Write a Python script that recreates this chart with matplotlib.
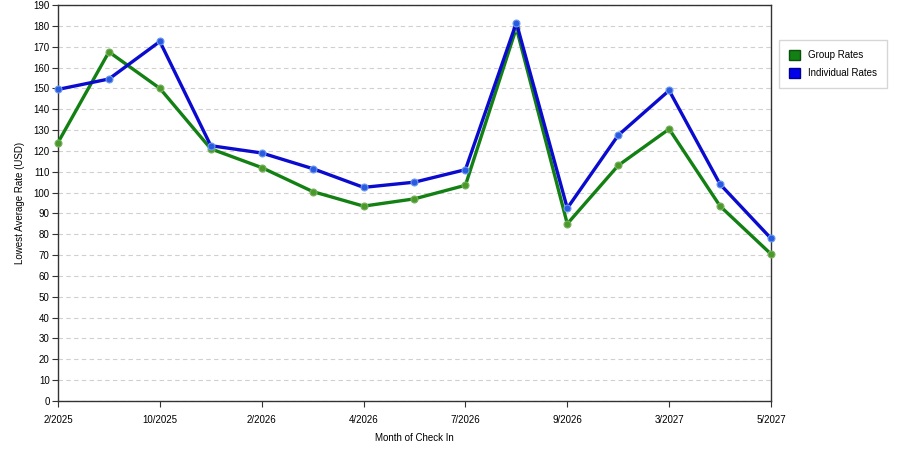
import matplotlib
matplotlib.use("Agg")
import matplotlib.pyplot as plt
from matplotlib.patches import Patch

# 체크인 월 (라벨은 두 칸마다 하나씩)
months = ["2/2025", "", "10/2025", "", "2/2026", "", "4/2026", "", "7/2026",
          "", "9/2026", "", "3/2027", "", "5/2027"]
group_rates = [124, 167.5, 150, 121, 112, 100.5, 93.5, 97, 103.5, 179, 85, 113, 130.5, 93.5, 70.5]
individual_rates = [149.5, 154.5, 172.5, 122.5, 119, 111.5, 102.5, 105, 111, 181.5, 92.5, 127.5, 149, 104, 78]

green = "#138013"
blue = "#0b0bcf"

plt.rcParams['font.family'] = ['Liberation Sans', 'DejaVu Sans']

fig = plt.figure(figsize=(9, 4.5), dpi=100)
ax = fig.add_axes([58 / 900, 1 - 401 / 450, (771 - 58) / 900, (401 - 5) / 450])

x = list(range(len(months)))
ax.plot(x, group_rates, color=green, lw=2.4, marker='o', ms=5, clip_on=False,
        markerfacecolor="#4a9a2a", markeredgecolor="#7ab060", markeredgewidth=0.8, zorder=3)
ax.plot(x, individual_rates, color=blue, lw=2.4, marker='o', ms=5, clip_on=False,
        markerfacecolor="#2a5ae0", markeredgecolor="#6a9af0", markeredgewidth=0.8, zorder=4)

ax.set_xlim(0, len(months) - 1)
ax.set_ylim(0, 190)
ax.set_yticks(range(0, 191, 10))
ticks = [i for i in x if months[i] != ""]
ax.set_xticks(ticks)
ax.set_xticklabels([months[i] for i in ticks])
ax.tick_params(labelsize=7, length=4, color="#333333", pad=6)
ax.tick_params(axis='y', pad=2)
ax.yaxis.grid(True, linestyle=(0, (4, 3)), color="#d0d0d0", lw=0.8)
ax.set_axisbelow(True)
for s in ax.spines.values():
    s.set_color("#333333")
    s.set_linewidth(1)

ax.set_xlabel("Month of Check In", fontsize=7, labelpad=6)
ax.set_ylabel("Lowest Average Rate (USD)", fontsize=7, labelpad=6)

handles = [Patch(facecolor=green, edgecolor="#0a500a", label="Group Rates"),
           Patch(facecolor="#0000ee", edgecolor="#00008a", label="Individual Rates")]
fig.legend(handles=handles, loc='upper left', bbox_to_anchor=(779 / 900, 1 - 40 / 450),
           borderaxespad=0, fontsize=7, frameon=True, fancybox=False, edgecolor="#cccccc",
           handlelength=1.2, handleheight=1.2, borderpad=1.0, labelspacing=0.8)

plt.savefig("out.png", dpi=100)
